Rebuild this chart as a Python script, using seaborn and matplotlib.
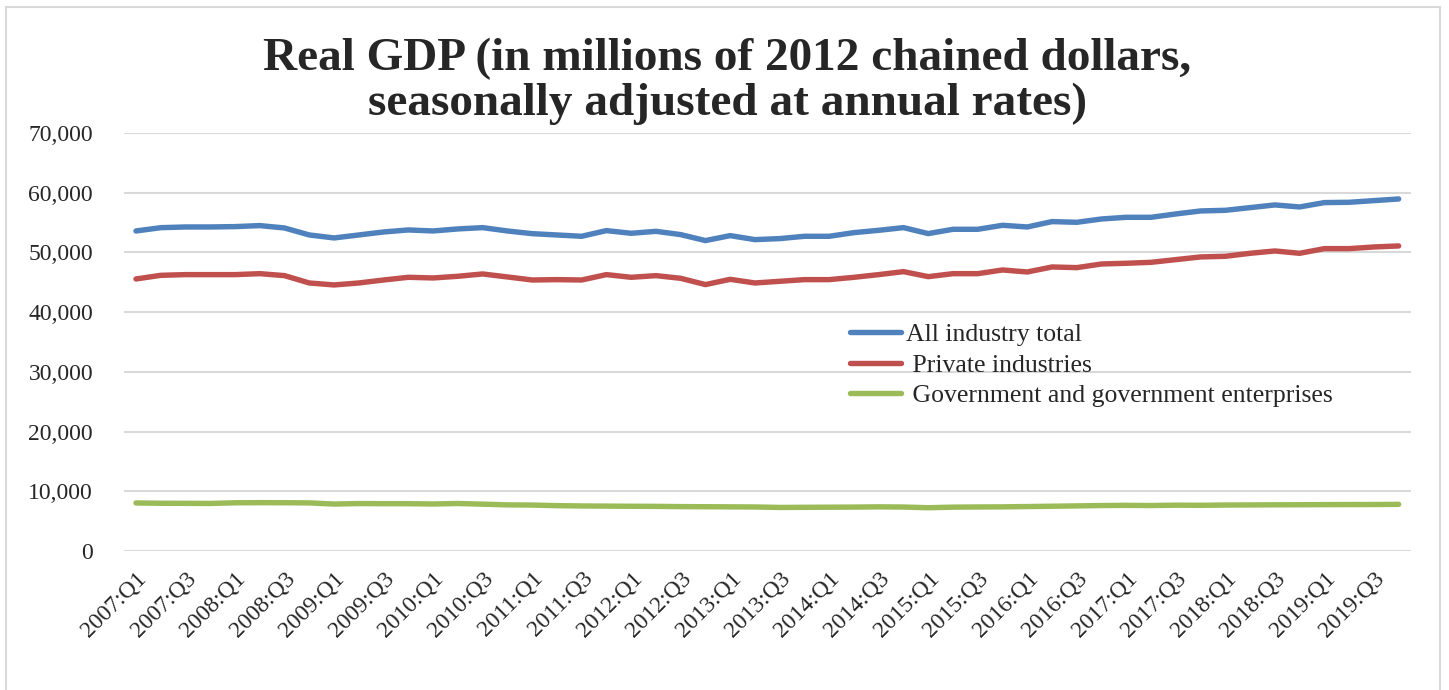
import pandas as pd
import numpy as np
import matplotlib.pyplot as plt
import seaborn as sns
from matplotlib.patches import Rectangle

# quarters 2007:Q1 .. 2019:Q4
quarters = [f"{y}:Q{q}" for y in range(2007, 2020) for q in range(1, 5)]

all_industry = [53600, 54150, 54270, 54270, 54330, 54500, 54100, 52930, 52430, 52930,
                53430, 53770, 53600, 53940, 54160, 53600, 53150, 52930, 52710, 53660,
                53210, 53540, 52990, 51990, 52820, 52150, 52320, 52710, 52710, 53320,
                53710, 54160, 53160, 53880, 53880, 54550, 54270, 55170, 55050, 55610,
                55890, 55890, 56450, 56950, 57060, 57510, 57960, 57620, 58350, 58400,
                58680, 58960]
private = [45560, 46170, 46290, 46290, 46290, 46450, 46120, 44890, 44560, 44890,
           45390, 45840, 45730, 46010, 46400, 45900, 45390, 45450, 45390, 46290,
           45840, 46120, 45670, 44620, 45500, 44890, 45170, 45450, 45450, 45840,
           46290, 46790, 45950, 46450, 46450, 47070, 46730, 47570, 47460, 48070,
           48190, 48350, 48800, 49250, 49360, 49860, 50250, 49860, 50640, 50640,
           50920, 51090]
government = [8050, 8000, 7990, 7970, 8080, 8100, 8090, 8060, 7870, 7950,
              7930, 7930, 7880, 7960, 7850, 7730, 7700, 7600, 7550, 7520,
              7500, 7480, 7440, 7420, 7400, 7380, 7300, 7320, 7340, 7360,
              7400, 7370, 7250, 7350, 7380, 7400, 7450, 7500, 7560, 7620,
              7650, 7620, 7680, 7660, 7700, 7720, 7740, 7750, 7770, 7780,
              7790, 7820]

series_names = ["All industry total", " Private industries", " Government and government enterprises"]
colors = ["#4F81BD", "#C0504D", "#9BBB59"]

df = pd.DataFrame({"idx": np.arange(len(quarters)), "quarter": quarters,
                   series_names[0]: all_industry,
                   series_names[1]: private,
                   series_names[2]: government})
long = df.melt(id_vars=["idx", "quarter"], var_name="series", value_name="gdp")

sns.set_style("white")
plt.rcParams['font.family'] = ['Liberation Serif', 'DejaVu Serif']

fig = plt.figure(figsize=(14.49, 6.9), dpi=100)
ax = fig.add_axes([0.0853, 0.2014, 0.8885, 0.6058])

sns.lineplot(data=long, x="idx", y="gdp", hue="series", palette=colors,
             linewidth=3.9, ax=ax, solid_capstyle="round")

ax.set_xlim(-0.5, len(quarters) - 0.5)
ax.set_ylim(0, 70000)
ax.set_yticks(range(0, 70001, 10000))
ax.set_yticklabels([f"{v:,}" for v in range(0, 70001, 10000)], fontsize=17)
ax.set_xticks(df["idx"][::2])
ax.set_xticklabels(df["quarter"][::2], rotation=45, ha="right",
                   rotation_mode="anchor", fontsize=17)
ax.tick_params(axis="both", length=0)
ax.tick_params(axis="x", pad=12)
ax.tick_params(axis="y", pad=22)
ax.grid(axis="y", color="#D9D9D9", linewidth=1.5)
ax.set_axisbelow(True)
for s in ax.spines.values():
    s.set_visible(False)
ax.set_xlabel("")
ax.set_ylabel("")

fig.text(0.502, 0.945, "Real GDP (in millions of 2012 chained dollars,\nseasonally adjusted at annual rates)",
         ha="center", va="top", fontsize=34, fontweight="bold", linespacing=1.08)

leg = ax.legend(loc="upper left", bbox_to_anchor=(0.546, 0.60), frameon=False,
                fontsize=18.5, handlelength=2.0, handletextpad=0.2, labelspacing=0.28)

fig.patches.append(Rectangle((0.004, -0.01), 0.99, 1.0, transform=fig.transFigure,
                             fill=False, edgecolor="#D9D9D9", linewidth=1.5))

fig.savefig("out.png", dpi=100)
